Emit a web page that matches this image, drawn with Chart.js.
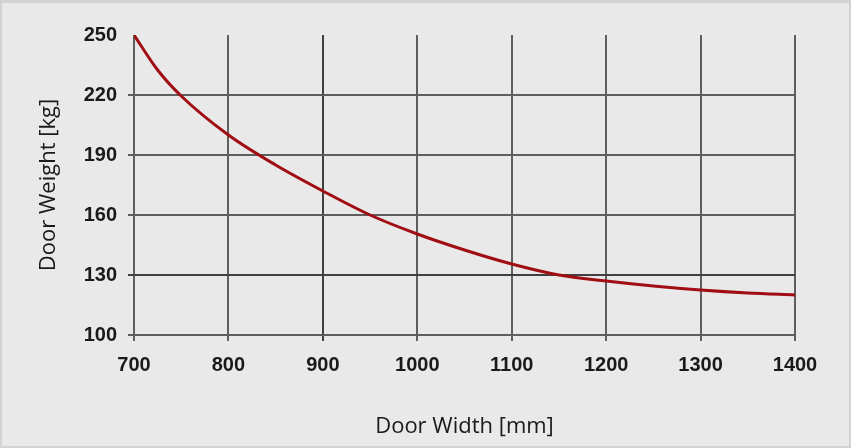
<!DOCTYPE html>
<html>
<head>
<meta charset="utf-8">
<script src="https://cdn.jsdelivr.net/npm/chart.js@4"></script>
<style>
  body { margin: 0; background: #e9e9e9; }
  #wrap { position: relative; width: 851px; height: 448px; }
  #frame { position: absolute; left: 0; top: 0; width: 851px; height: 448px; box-sizing: border-box;
           border: 2px solid #d3d3d3; border-top-width: 3px; pointer-events: none; }
</style>
</head>
<body>
<div id="wrap">
  <canvas id="myChart" width="851" height="448"></canvas>
  <div id="frame"></div>
</div>
<script>
// Door width (mm) vs max door weight (kg)
const doorWidth = [700, 725, 750, 800, 850, 900, 950, 1000, 1050, 1100, 1150, 1200, 1250, 1300, 1350, 1400]
const doorWeight = [250, 232.5, 219.5, 200, 185, 172, 160, 150.5, 142.5, 135.5, 130, 127, 124.5, 122.5, 121, 120]
const xTicks = [700, 800, 900, 1000, 1100, 1200, 1300, 1400]
const yTicks = [100, 130, 160, 190, 220, 250]

const points = doorWidth.map((w, i) => ({ x: w, y: doorWeight[i] }))

const gridColor = "#5e5e5e"
const darkGrid = "#404040"
const tickFont = { family: "Liberation Sans", size: 20, weight: "bold" }
const titleFont = { family: "Open Sans", size: 22 }

const config = {
  type: "line",
  data: {
    datasets: [{
      data: points,
      borderColor: "#a00d12",
      borderWidth: 3,
      pointRadius: 0,
      cubicInterpolationMode: "monotone",
      fill: false,
    }],
  },
  options: {
    responsive: false,
    animation: false,
    layout: { padding: { top: 35, right: 56, bottom: 0, left: 0 } },
    plugins: { legend: { display: false }, tooltip: { enabled: false } },
    scales: {
      x: {
        type: "linear",
        min: 700,
        max: 1400,
        afterBuildTicks: scale => { scale.ticks = xTicks.map(v => ({ value: v })) },
        afterFit: scale => { scale.height = 448 - 335 },
        grid: {
          color: ctx => ctx.tick && ctx.tick.value === 900 ? darkGrid : gridColor,
          lineWidth: 2,
          tickLength: 6,
        },
        border: { display: false },
        ticks: {
          color: "#1a1a1a",
          font: tickFont,
          padding: 12,
          maxRotation: 0,
          callback: v => String(v),
        },
        title: {
          display: true,
          text: "Door Width [mm]",
          color: "#1a1a1a",
          font: titleFont,
          padding: { top: 0, bottom: 8 },
        },
      },
      y: {
        min: 100,
        max: 250,
        afterBuildTicks: scale => { scale.ticks = yTicks.map(v => ({ value: v })) },
        afterFit: scale => { scale.width = 134 },
        grid: {
          color: ctx => {
            if (!ctx.tick) return gridColor
            if (ctx.tick.value === 250) return "rgba(0,0,0,0)"
            return ctx.tick.value === 130 ? darkGrid : gridColor
          },
          lineWidth: 2,
          tickLength: 6,
        },
        border: { display: false },
        ticks: {
          color: "#1a1a1a",
          font: tickFont,
          padding: 11,
          callback: v => String(v),
        },
        title: {
          display: true,
          text: "Door Weight [kg]",
          color: "#1a1a1a",
          font: titleFont,
          padding: { top: 36, bottom: 0 },
        },
      },
    },
  },
}

const monGraphe = new Chart(document.getElementById("myChart"), config)
</script>
</body>
</html>
